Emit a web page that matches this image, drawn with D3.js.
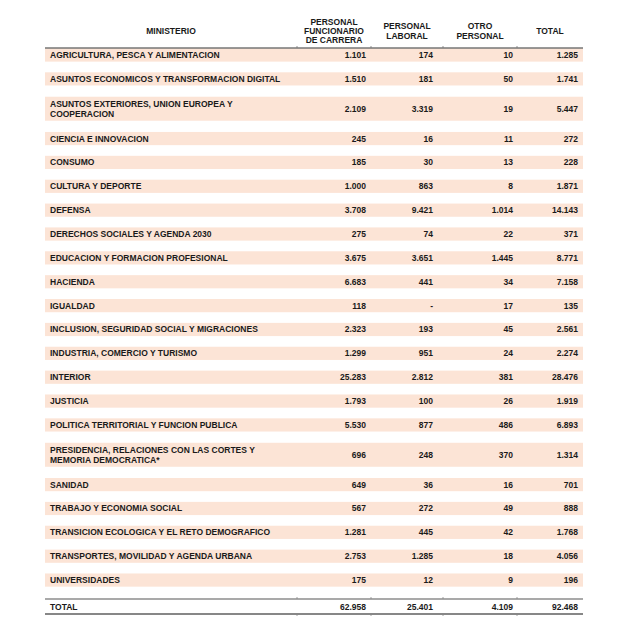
<!DOCTYPE html>
<html><head><meta charset="utf-8">
<script src="https://cdn.jsdelivr.net/npm/d3@7"></script>
<style>
html,body{margin:0;padding:0;background:#fff;}
svg text{font-family:"Liberation Sans",Arial,sans-serif;font-weight:bold;fill:#1a1a1a;}
</style></head>
<body><svg id="chart" width="621" height="621"></svg>
<script>
const headers = ["MINISTERIO", "PERSONAL\nFUNCIONARIO\nDE CARRERA", "PERSONAL\nLABORAL", "OTRO\nPERSONAL", "TOTAL"];
const ministerios = [
  "AGRICULTURA, PESCA Y ALIMENTACION",
  "ASUNTOS ECONOMICOS Y TRANSFORMACION DIGITAL",
  "ASUNTOS EXTERIORES, UNION EUROPEA Y\nCOOPERACION",
  "CIENCIA E INNOVACION",
  "CONSUMO",
  "CULTURA Y DEPORTE",
  "DEFENSA",
  "DERECHOS SOCIALES Y AGENDA 2030",
  "EDUCACION Y FORMACION PROFESIONAL",
  "HACIENDA",
  "IGUALDAD",
  "INCLUSION, SEGURIDAD SOCIAL Y MIGRACIONES",
  "INDUSTRIA, COMERCIO Y TURISMO",
  "INTERIOR",
  "JUSTICIA",
  "POLITICA TERRITORIAL Y FUNCION PUBLICA",
  "PRESIDENCIA, RELACIONES CON LAS CORTES Y\nMEMORIA DEMOCRATICA*",
  "SANIDAD",
  "TRABAJO Y ECONOMIA SOCIAL",
  "TRANSICION ECOLOGICA Y EL RETO DEMOGRAFICO",
  "TRANSPORTES, MOVILIDAD Y AGENDA URBANA",
  "UNIVERSIDADES"
];
const funcionario = [1101,1510,2109,245,185,1000,3708,275,3675,6683,118,2323,1299,25283,1793,5530,696,649,567,1281,2753,175];
const laboral     = [174,181,3319,16,30,863,9421,74,3651,441,null,193,951,2812,100,877,248,36,272,445,1285,12];
const otro        = [10,50,19,11,13,8,1014,22,1445,34,17,45,24,381,26,486,370,16,49,42,18,9];
const total       = [1285,1741,5447,272,228,1871,14143,371,8771,7158,135,2561,2274,28476,1919,6893,1314,701,888,1768,4056,196];
const totalRowLabel = "TOTAL";
const totalRow = [62958,25401,4109,92468];

const loc = d3.formatLocale({decimal:",", thousands:".", grouping:[3], currency:["","€"]});
const fmt = v => v == null ? "-" : loc.format(",d")(v);

const svg = d3.select("#chart");
const FS = 8.5;
const tableLeft = 45, tableRight = 583;
// column boundaries
const bounds = [tableLeft, 297, 371, 443, 517, tableRight];
const numRight = [366, 433, 513, 578];

// row slot units
const units = ministerios.map(m => m.includes("\n") ? 1.5 : 1);
const cum = [0]; units.forEach(u => cum.push(cum[cum.length-1] + u));
const y = d3.scaleLinear().domain([0, cum[cum.length-1]]).range([43.1, 592]);

const rows = ministerios.map((m, i) => ({
  label: m.split("\n"),
  vals: [funcionario[i], laboral[i], otro[i], total[i]],
  cy: y(cum[i] + units[i]/2),
  double: units[i] > 1
}));

// bands
svg.append("g").selectAll("rect").data(rows).join("rect")
  .attr("x", tableLeft).attr("width", tableRight - tableLeft)
  .attr("y", d => d.cy - (d.double ? 12 : 6.6))
  .attr("height", d => d.double ? 24 : 13.2)
  .attr("fill", "#fce4d6");

// header
const hg = svg.append("g");
headers.forEach((h, j) => {
  const lines = h.split("\n");
  const cx = (bounds[j] + bounds[j+1]) / 2;
  const lh = 9.3;
  const c0 = 31 - (lines.length - 1) * lh / 2;
  lines.forEach((ln, k) => {
    hg.append("text").attr("x", cx).attr("y", c0 + k*lh + 3)
      .attr("text-anchor", "middle").attr("font-size", FS).text(ln);
  });
});
svg.append("line").attr("x1", tableLeft).attr("x2", tableRight)
  .attr("y1", 48).attr("y2", 48).attr("stroke", "#333").attr("stroke-width", 1);
svg.append("g").selectAll("line").data(bounds.slice(1, 5)).join("line")
  .attr("x1", d => d).attr("x2", d => d).attr("y1", 46).attr("y2", 48)
  .attr("stroke", "#777").attr("stroke-width", 0.8);

// body
const bg = svg.append("g");
rows.forEach(r => {
  const n = r.label.length;
  r.label.forEach((ln, k) => {
    bg.append("text").attr("x", 50).attr("y", r.cy + (k - (n-1)/2) * 10 + 3)
      .attr("font-size", FS).text(ln);
  });
  r.vals.forEach((v, j) => {
    bg.append("text").attr("x", numRight[j]).attr("y", r.cy + 3)
      .attr("text-anchor", "end").attr("font-size", FS).text(fmt(v));
  });
});

// total row
const tTop = 599, tBot = 614, tCy = 606.5;
svg.append("line").attr("x1", tableLeft).attr("x2", tableRight)
  .attr("y1", tTop).attr("y2", tTop).attr("stroke", "#555").attr("stroke-width", 1.2);
svg.append("line").attr("x1", tableLeft).attr("x2", tableRight)
  .attr("y1", tBot).attr("y2", tBot).attr("stroke", "#111").attr("stroke-width", 1.2);
svg.append("g").selectAll("line.t").data(bounds.slice(1, 5)).join("line")
  .attr("x1", d => d).attr("x2", d => d).attr("y1", tTop - 2).attr("y2", tTop)
  .attr("stroke", "#888").attr("stroke-width", 0.8);
svg.append("g").selectAll("line.b").data(bounds.slice(1, 5)).join("line")
  .attr("x1", d => d).attr("x2", d => d).attr("y1", tBot).attr("y2", tBot + 2)
  .attr("stroke", "#888").attr("stroke-width", 0.8);
svg.append("text").attr("x", 50).attr("y", tCy + 3).attr("font-size", FS).text(totalRowLabel);
totalRow.forEach((v, j) => {
  svg.append("text").attr("x", numRight[j]).attr("y", tCy + 3)
    .attr("text-anchor", "end").attr("font-size", FS).text(fmt(v));
});
</script></body></html>
